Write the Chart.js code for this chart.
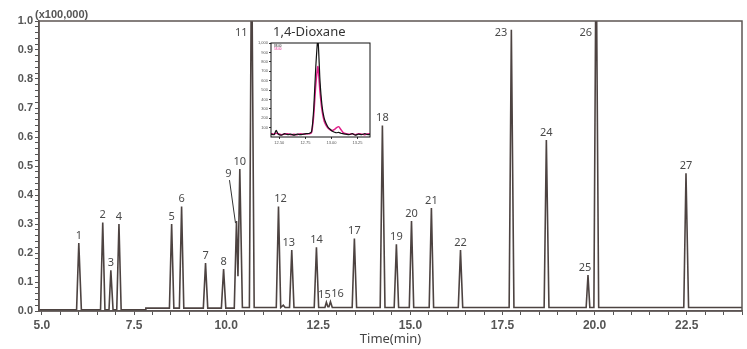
<!DOCTYPE html>
<html>
<head>
<meta charset="utf-8">
<script src="https://cdn.jsdelivr.net/npm/chart.js@4.4.1/dist/chart.umd.min.js"></script>
<style>
body{margin:0;background:#fff}
#wrap{position:relative;width:747px;height:349px}
#main{position:absolute;left:0;top:0}
#inset{position:absolute;left:255px;top:38px;background:#fff}
</style>
</head>
<body>
<div id="wrap">
<canvas id="main" width="747" height="349"></canvas>
<canvas id="inset" width="120" height="109"></canvas>
</div>
<script>

// chromatogram trace, time in min, signal in x100,000
const traceTime = [
4.92,
5.94, 6.00, 6.07,
6.59, 6.65, 6.71,
6.82, 6.87, 6.93,
7.03, 7.09, 7.15,
7.82, 7.82,
8.46, 8.52, 8.58,
8.73, 8.79, 8.85,
9.38, 9.44, 9.50,
9.87, 9.93, 9.99,
10.22, 10.28, 10.32, 10.37, 10.44,
10.63, 10.69, 10.76,
11.36, 11.42, 11.48, 11.55, 11.60,
11.72, 11.78, 11.84,
12.39, 12.45, 12.51,
12.68, 12.72, 12.76, 12.79, 12.83, 12.88,
13.42, 13.48, 13.54,
14.18, 14.24, 14.31,
14.56, 14.62, 14.68,
14.97, 15.03, 15.09,
15.51, 15.57, 15.63,
16.30, 16.36, 16.42,
17.68, 17.74, 17.81,
18.63, 18.69, 18.76,
19.77, 19.82, 19.87,
19.98, 20.04, 20.11,
22.42, 22.48, 22.55,
24.0
]
const traceSignal = [
0.004,
0.004, 0.234, 0.004,
0.004, 0.305, 0.004,
0.004, 0.140, 0.004,
0.004, 0.300, 0.004,
0.004, 0.010,
0.010, 0.300, 0.010,
0.010, 0.360, 0.010,
0.010, 0.165, 0.010,
0.010, 0.145, 0.010,
0.010, 0.310, 0.120, 0.490, 0.012,
0.012, 1.300, 0.012,
0.012, 0.360, 0.012, 0.020, 0.012,
0.012, 0.210, 0.012,
0.012, 0.220, 0.012,
0.012, 0.030, 0.015, 0.015, 0.032, 0.012,
0.012, 0.250, 0.012,
0.012, 0.640, 0.012,
0.012, 0.230, 0.012,
0.012, 0.310, 0.012,
0.012, 0.355, 0.012,
0.012, 0.210, 0.012,
0.012, 0.970, 0.012,
0.012, 0.590, 0.012,
0.012, 0.124, 0.012,
0.012, 1.300, 0.012,
0.012, 0.475, 0.012,
0.012
]

// peak numbering
const peakNames = ["1","2","3","4","5","6","7","8","9","10","11","12","13","14","15","16","17","18","19","20","21","22","23","24","25","26","27"]
const peakTimes = [6.00,6.65,6.87,7.09,8.52,8.79,9.44,9.93,10.28,10.37,10.69,11.42,11.78,12.45,12.72,12.83,13.48,14.24,14.62,15.03,15.57,16.36,17.74,18.69,19.82,20.04,22.48]
const peakHeights = [0.234,0.305,0.140,0.300,0.300,0.360,0.165,0.145,0.310,0.490,1.300,0.360,0.210,0.220,0.030,0.032,0.250,0.640,0.230,0.310,0.355,0.210,0.970,0.590,0.124,1.300,0.475]

const xMajor = [5.0,7.5,10.0,12.5,15.0,17.5,20.0,22.5]
const yMajor = [0.0,0.1,0.2,0.3,0.4,0.5,0.6,0.7,0.8,0.9,1.0]

// inset: 1,4-Dioxane
const insetTime = [12.42,12.45,12.47,12.49,12.52,12.55,12.58,12.61,12.64,12.67,12.70,12.73,12.76,12.79,12.81,12.83,12.85,12.87,12.89,12.91,12.93,12.95,12.97,12.99,13.01,13.03,13.05,13.07,13.09,13.11,13.14,13.17,13.20,13.23,13.26,13.29,13.32,13.35,13.37]
const insetBlack = [30,25,70,30,20,35,25,30,20,30,25,30,35,40,60,300,750,1050,600,330,200,140,100,80,60,50,45,50,40,35,30,25,35,20,30,25,35,25,30]
const insetMagenta = [35,30,40,35,25,30,35,25,30,25,35,30,35,35,50,230,560,750,480,280,170,120,90,75,70,80,100,110,80,50,35,30,35,25,35,30,25,35,30]
const insetNames = ["88.00","58.00"]
const insetXTicks = [12.50,12.75,13.00,13.25]
const insetYTicks = [100,200,300,400,500,600,700,800,900,1000]


// label placement tweaks (px)
const labelStyle = {
"9":{dx:-8,dy:-40,leader:true},
"11":{top:true},
"23":{top:true},
"26":{top:true},
"12":{dx:2},
"13":{dx:-3},
"15":{dx:-2},
"16":{dx:7},
"25":{dx:-3}
}

const isMajor = (v, step) => Math.abs(v/step - Math.round(v/step)) < 1e-6

const mainPlugin = {
id:"mainDeco",
afterDatasetsDraw(chart){
const ctx = chart.ctx
const a = chart.chartArea
const xs = chart.scales.x
const ys = chart.scales.y
ctx.save()
// frame
ctx.strokeStyle = "#5d5553"
ctx.lineWidth = 1.5
ctx.strokeRect(a.left, a.top, a.right-a.left, a.bottom-a.top)

// peak numbers
ctx.font = "11px 'Noto Sans'"
ctx.fillStyle = "#4a4a4a"
ctx.textBaseline = "bottom"
peakNames.forEach((n,i) => {
const st = labelStyle[n] || {}
const px = xs.getPixelForValue(peakTimes[i])
if (st.top) {
ctx.textAlign = "right"
ctx.fillText(n, px-4, a.top+17)
return
}
const py = ys.getPixelForValue(peakHeights[i])
ctx.textAlign = "center"
const lx = px + (st.dx||0)
const ly = py - 2 + (st.dy||0)
ctx.fillText(n, lx, ly)
if (st.leader) {
ctx.strokeStyle = "#333"
ctx.lineWidth = 1
ctx.beginPath()
ctx.moveTo(lx+1, ly+1)
ctx.lineTo(px-1, py+2)
ctx.stroke()
}
})

// unit and inset title
ctx.textAlign = "left"
ctx.textBaseline = "middle"
ctx.fillStyle = "#555"
ctx.font = "bold 11px 'Liberation Sans'"
ctx.fillText("(x100,000)", 35, 15)
ctx.fillStyle = "#333"
ctx.font = "13px 'Noto Sans'"
ctx.fillText("1,4-Dioxane", 273, 32)
ctx.restore()
}
}

new Chart(document.getElementById("main"),{
type:"line",
data:{
datasets:[{
data:traceTime.map((t,i) => ({x:t, y:traceSignal[i]})),
borderColor:"#4d4341",
borderWidth:1.6,
pointRadius:0,
tension:0
}]
},
options:{
responsive:false,
animation:false,
devicePixelRatio:1,
layout:{padding:{top:21,right:5,left:0,bottom:0}},
plugins:{legend:{display:false},tooltip:{enabled:false}},
scales:{
x:{
type:"linear",
min:4.92,
max:24.0,
afterBuildTicks(s){
const t = []
for (let v = 5.0; v <= 24.0001; v += 0.5) t.push({value:Math.round(v*10)/10})
s.ticks = t
},
afterFit(s){ s.height = 38 },
grid:{drawOnChartArea:false, tickLength:4, color:"#555", tickColor:"#555"},
border:{color:"#5d5553", width:1.5},
ticks:{
autoSkip:false,
maxRotation:0,
padding:3,
color:"#555",
font:{family:"'Liberation Sans'", size:12, weight:"bold"},
callback:(v) => isMajor(v,2.5) ? v.toFixed(1) : ""
},
title:{display:true, text:"Time(min)", color:"#444", font:{family:"'Noto Sans'", size:13}, padding:{top:0,bottom:2}}
},
y:{
min:0,
max:1.0,
afterBuildTicks(s){
const t = []
for (let k = 0; k <= 50; k++) t.push({value:k/50})
s.ticks = t
},
afterFit(s){ s.width = 39 },
grid:{drawOnChartArea:false, tickLength:4, tickColor:"#555"},
border:{color:"#5d5553", width:1.5},
ticks:{
autoSkip:false,
padding:2,
color:"#555",
font:{family:"'Liberation Sans'", size:11, weight:"bold"},
callback:(v) => isMajor(v,0.1) ? v.toFixed(1) : ""
}
}
}
},
plugins:[mainPlugin]
})


// inset chart
const insetPlugin = {
id:"insetDeco",
afterDatasetsDraw(chart){
const ctx = chart.ctx
const a = chart.chartArea
ctx.save()
ctx.strokeStyle = "#111"
ctx.lineWidth = 1
ctx.strokeRect(a.left, a.top, a.right-a.left, a.bottom-a.top)
ctx.font = "3px 'Liberation Sans'"
ctx.textBaseline = "middle"
const cols = ["#111","#e0208a"]
insetNames.forEach((n,i) => {
ctx.fillStyle = cols[i]
ctx.fillText(n, a.left+3, a.top+3+i*3)
})
ctx.restore()
}
}

new Chart(document.getElementById("inset"),{
type:"line",
data:{
datasets:[
{data:insetTime.map((t,i) => ({x:t, y:insetBlack[i]})), borderColor:"#111", borderWidth:1.2, pointRadius:0, tension:0.2},
{data:insetTime.map((t,i) => ({x:t, y:insetMagenta[i]})), borderColor:"#e0208a", borderWidth:1.5, pointRadius:0, tension:0.2}
]
},
options:{
responsive:false,
animation:false,
devicePixelRatio:1,
layout:{padding:{top:5,right:5,left:0,bottom:0}},
plugins:{legend:{display:false},tooltip:{enabled:false}},
scales:{
x:{
type:"linear",
min:12.42,
max:13.37,
afterBuildTicks(s){ s.ticks = insetXTicks.map(v => ({value:v})) },
afterFit(s){ s.height = 10 },
grid:{drawOnChartArea:false, tickLength:2, tickColor:"#333"},
border:{display:false},
ticks:{autoSkip:false, maxRotation:0, padding:1, color:"#555", font:{size:4}, callback:(v) => v.toFixed(2)}
},
y:{
min:0,
max:1000,
afterBuildTicks(s){ s.ticks = insetYTicks.map(v => ({value:v})) },
afterFit(s){ s.width = 16 },
grid:{drawOnChartArea:false, tickLength:2, tickColor:"#333"},
border:{display:false},
ticks:{autoSkip:false, padding:1, color:"#555", font:{size:4}}
}
}
},
plugins:[insetPlugin]
})

</script>
</body>
</html>
